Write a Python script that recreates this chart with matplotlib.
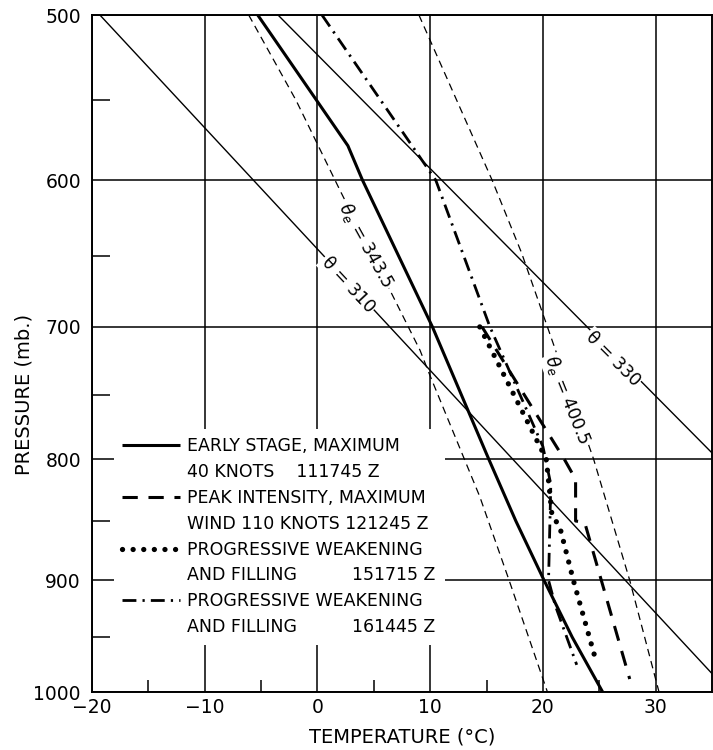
import numpy as np
import matplotlib
matplotlib.use("Agg")
import matplotlib.pyplot as plt
from matplotlib.lines import Line2D
from matplotlib.ticker import FixedLocator

# Stuve diagram: pressure axis goes as p**kappa, so dry adiabats are straight
KAPPA = 0.286

# soundings (pressure mb, temperature C)
early_p = [500, 578, 600, 700, 800, 850, 900, 950, 1000]
early_t = [-5.3, 2.7, 4.0, 10.2, 15.2, 17.6, 20.1, 22.6, 25.3]

peak_p = [700, 800, 816, 850, 851, 988]
peak_t = [14.6, 21.9, 22.9, 22.9, 23.7, 27.7]

weak1_p = [700, 800, 826, 845, 855, 900, 971]
weak1_t = [14.4, 20.3, 20.6, 20.8, 21.5, 22.7, 24.7]

weak2_p = [500, 600, 700, 790, 820, 900, 922, 975]
weak2_t = [0.4, 10.5, 15.3, 20.0, 20.7, 20.5, 21.1, 23.0]

# reference adiabats
th310_p = [500, 983]
th310_t = [-19.3, 35.0]
th330_p = [500, 795]
th330_t = [-3.5, 35.0]
the343_p = [500, 550, 608, 717, 736, 830, 900, 1000]
the343_t = [-6.1, -1.9, 2.1, 9.1, 10.0, 14.4, 17.0, 20.4]
the400_p = [500, 600, 648, 700, 800, 900, 1000]
the400_t = [9.0, 15.5, 18.1, 20.4, 24.5, 27.7, 30.3]

legend_lines = [
    ("EARLY STAGE, MAXIMUM", "40 KNOTS    111745 Z"),
    ("PEAK INTENSITY, MAXIMUM", "WIND 110 KNOTS 121245 Z"),
    ("PROGRESSIVE WEAKENING", "AND FILLING          151715 Z"),
    ("PROGRESSIVE WEAKENING", "AND FILLING          161445 Z"),
]

x_ticks = [-20, -10, 0, 10, 20, 30]
y_ticks = [500, 600, 700, 800, 900, 1000]


def fwd(p):
    return np.power(np.clip(p, 1e-6, None), KAPPA)


def inv(y):
    return np.power(np.clip(y, 1e-6, None), 1.0 / KAPPA)


fig = plt.figure(figsize=(7.13, 7.5), dpi=100)
ax = fig.add_axes([92 / 713, 1 - 692 / 750, 620 / 713, 677 / 750])
ax.set_yscale("function", functions=(fwd, inv))
ax.set_xlim(-20, 35)
ax.set_ylim(1000, 500)

K = "black"
ax.plot(th310_t, th310_p, color=K, lw=1.0, zorder=2)
ax.plot(th330_t, th330_p, color=K, lw=1.0, zorder=2)
ax.plot(the343_t, the343_p, color=K, lw=0.9, ls=(0, (6, 4)), zorder=2)
ax.plot(the400_t, the400_p, color=K, lw=0.9, ls=(0, (6, 4)), zorder=2)

st_early = dict(color=K, lw=2.2, solid_capstyle="butt")
st_peak = dict(color=K, lw=2.2, ls=(0, (5, 3.5)))
st_weak1 = dict(color=K, lw=3.8, ls=(0, (0.01, 2.0)), dash_capstyle="round")
st_weak2 = dict(color=K, lw=2.0, ls=(0, (5, 2.2, 0.8, 2.2)))
ax.plot(early_t, early_p, zorder=3, **st_early)
ax.plot(peak_t, peak_p, zorder=3, **st_peak)
ax.plot(weak1_t, weak1_p, zorder=3, **st_weak1)
ax.plot(weak2_t, weak2_p, zorder=3, **st_weak2)

# labels sit on the lines and blank them out
lab = dict(fontsize=12.5, ha="center", va="center", zorder=4,
           rotation_mode="anchor",
           bbox=dict(facecolor="white", edgecolor="none", pad=1.0))
ax.text(2.7, 670, "θ = 310", rotation=-47, **lab)
ax.text(26.2, 723, "θ = 330", rotation=-45, **lab)
ax.text(4.3, 643, r"$\theta_e$ = 343.5", rotation=-61, **lab)
ax.text(22.2, 754, r"$\theta_e$ = 400.5", rotation=-68, **lab)

# grid / ticks
ax.xaxis.set_major_locator(FixedLocator(x_ticks))
ax.yaxis.set_major_locator(FixedLocator(y_ticks))
ax.yaxis.set_major_formatter(plt.FuncFormatter(lambda v, _: f"{v:.0f}"))
ax.xaxis.set_minor_locator(FixedLocator([-15, -5, 5, 15, 25]))
ax.yaxis.set_minor_locator(FixedLocator([550, 650, 750, 850, 950]))
ax.grid(True, which="major", color=K, lw=1.1)
ax.tick_params(which="major", length=0, labelsize=13.5)
ax.tick_params(axis="y", which="major", pad=8)
ax.tick_params(axis="x", which="major", pad=4)
ax.tick_params(axis="x", which="minor", direction="in", length=9, width=1.1)
ax.tick_params(axis="y", which="minor", direction="in", length=13, width=1.1)
for s in ax.spines.values():
    s.set_linewidth(1.4)

ax.set_xlabel("TEMPERATURE (°C)", fontsize=14, labelpad=8)
ax.set_ylabel("PRESSURE (mb.)", fontsize=14)
ax.yaxis.set_label_coords(-0.095, 0.44)

blank = Line2D([], [], color="none")
handles = [Line2D([], [], **st_early), blank,
           Line2D([], [], **st_peak), blank,
           Line2D([], [], **st_weak1), blank,
           Line2D([], [], **st_weak2), blank]
labels = [s for pair in legend_lines for s in pair]
leg = ax.legend(handles, labels, loc="upper left",
                bbox_to_anchor=(0.035, 0.389), fontsize=12.5,
                handlelength=3.3, handletextpad=0.45, labelspacing=0.45,
                borderpad=0.5, borderaxespad=0, frameon=True, fancybox=False)
leg.get_frame().set_facecolor("white")
leg.get_frame().set_edgecolor("none")
leg.get_frame().set_alpha(1)
leg.set_zorder(5)

fig.savefig("out.png", dpi=100)
